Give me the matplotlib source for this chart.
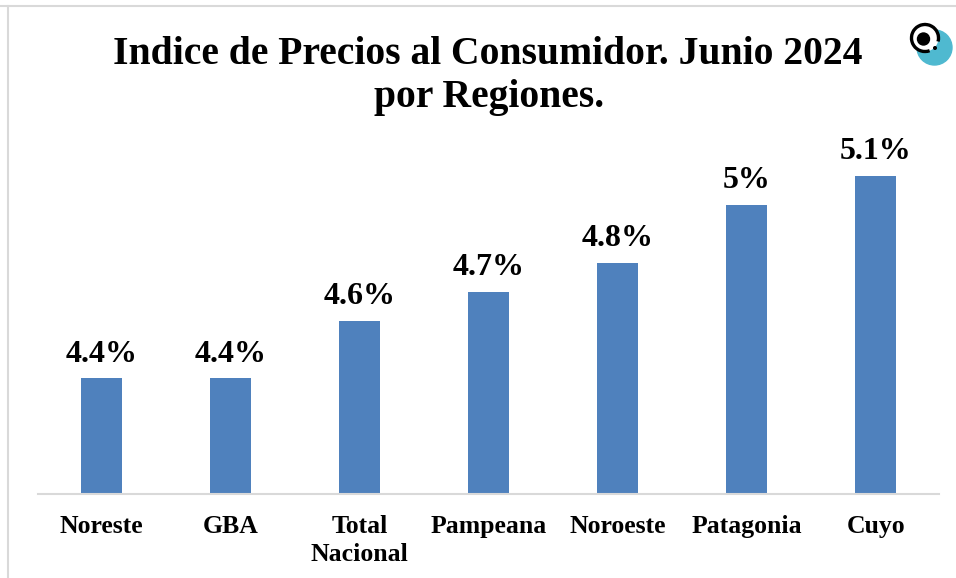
import matplotlib
matplotlib.use('Agg')
import matplotlib.pyplot as plt
from matplotlib.patches import Arc, Circle

regions = ['Noreste', 'GBA', 'Total\nNacional', 'Pampeana', 'Noroeste', 'Patagonia', 'Cuyo']
values = [4.4, 4.4, 4.6, 4.7, 4.8, 5.0, 5.1]
labels = ['4.4%', '4.4%', '4.6%', '4.7%', '4.8%', '5%', '5.1%']

W, H = 956, 578
plt.rcParams['font.family'] = ['Liberation Serif', 'DejaVu Serif']
plt.rcParams['font.weight'] = 'bold'

fig = plt.figure(figsize=(W / 100, H / 100), dpi=100)
# baseline at y=494, 5.1 at y=176
ax = fig.add_axes([38 / W, 1 - 494 / H, 901 / W, (494 - 130) / H])

ax.bar(range(len(values)), values, width=0.315, color='#4f81bd')
ax.set_xlim(-0.49, 6.49)
ax.set_ylim(4.0, 4.0 + 1.1 * 364 / 318)
for i, (v, s) in enumerate(zip(values, labels)):
    ax.annotate(s, (i, v), xytext=(0, 7), textcoords='offset points', ha='center',
                va='bottom', fontsize=23, fontweight='bold')

for s in ['top', 'left', 'right']:
    ax.spines[s].set_visible(False)
ax.spines['bottom'].set_color('#d9d9d9')
ax.spines['bottom'].set_linewidth(1.5)
ax.set_yticks([])
ax.set_xticks(range(len(regions)))
ax.set_xticklabels(regions, fontsize=18.5, fontweight='bold', linespacing=1.3, va='top')
ax.tick_params(axis='x', length=0, pad=15)

fig.text(488 / W, 1 - 54 / H, 'Indice de Precios al Consumidor. Junio 2024', ha='center', va='center',
         fontsize=28.5, fontweight='bold')
fig.text(489 / W, 1 - 98 / H, 'por Regiones.', ha='center', va='center',
         fontsize=28.5, fontweight='bold')

# outer frame
fig.add_artist(plt.Line2D([0, 1], [1 - 6 / H, 1 - 6 / H], color='#d9d9d9', lw=1.5))
fig.add_artist(plt.Line2D([8 / W, 8 / W], [0, 1 - 6 / H], color='#d9d9d9', lw=1.5))

# logo
logo = fig.add_axes([900 / W, 1 - 75 / H, 56 / W, 60 / H])
logo.set_xlim(900, 956)
logo.set_ylim(75, 15)
logo.set_aspect('equal')
logo.axis('off')
logo.add_patch(Circle((934.5, 47.5), 17.5, color='#4fb9d0'))
logo.add_patch(Circle((925, 38), 13.5, fc='white', ec='none'))
logo.add_patch(Arc((925, 38), 27, 27, theta1=70, theta2=15, color='black', lw=2.4))
logo.add_patch(Circle((923.5, 39), 6, color='black'))
logo.add_patch(Circle((935, 48), 1.3, color='black'))

fig.savefig('out.png', dpi=100)
